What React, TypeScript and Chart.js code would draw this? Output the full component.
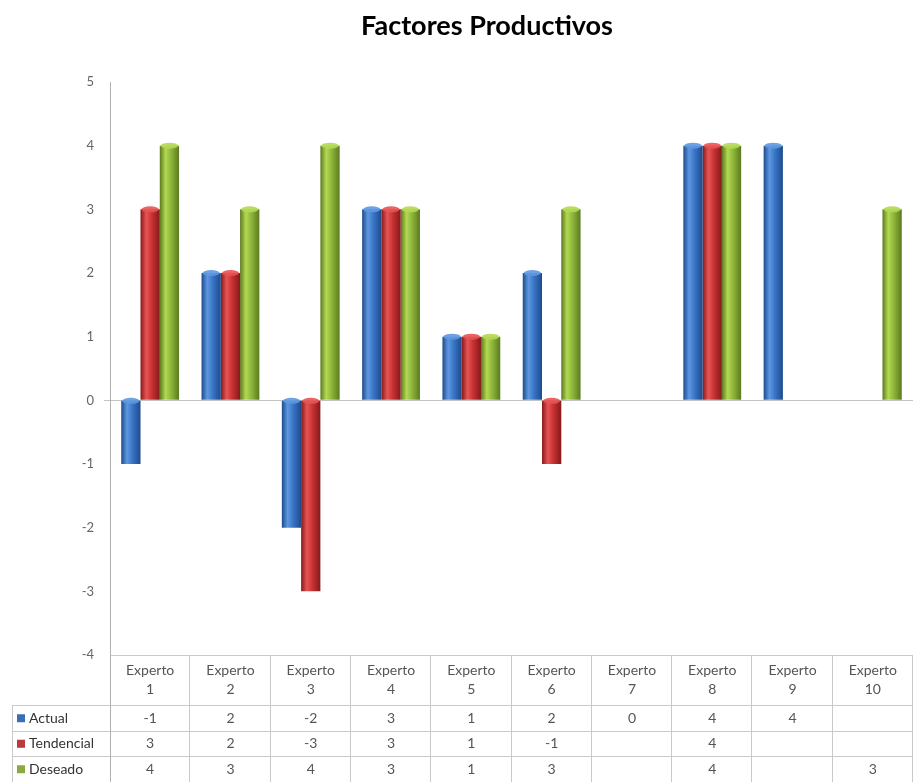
import React, { useEffect, useRef } from "react";
import { Chart, registerables } from "chart.js";

Chart.register(...registerables);

const TITLE = "Factores Productivos";
const categories = ["Experto 1", "Experto 2", "Experto 3", "Experto 4", "Experto 5", "Experto 6", "Experto 7", "Experto 8", "Experto 9", "Experto 10"];
const actual: (number | null)[] = [-1, 2, -2, 3, 1, 2, 0, 4, 4, null];
const tendencial: (number | null)[] = [3, 2, -3, 3, 1, -1, null, 4, null, null];
const deseado: (number | null)[] = [4, 3, 4, 3, 1, 3, null, 4, null, 3];
const seriesNames = ["Actual", "Tendencial", "Deseado"];
const yTicksMin = -4;
const yTicksMax = 5;

const palettes = [
  { dark: "#1d4b8a", light: "#5e98e2", base: "#3873c4", key: "#3a6fb8" },
  { dark: "#85191a", light: "#e85353", base: "#c63131", key: "#b83a3a" },
  { dark: "#5a7a1e", light: "#b4d853", base: "#8cb43a", key: "#8aaa40" },
];

const FONT = "Lato, 'Open Sans', 'Liberation Sans', sans-serif";

const cylinderPlugin = {
  id: "cylinder",
  beforeDatasetsDraw(chart: any) {
    const ctx = chart.ctx;
    chart.data.datasets.forEach((ds: any, di: number) => {
      const meta = chart.getDatasetMeta(di);
      const p = palettes[di];
      meta.data.forEach((el: any) => {
        if (el.width == null || isNaN(el.x)) return;
        const g = ctx.createLinearGradient(el.x - el.width / 2, 0, el.x + el.width / 2, 0);
        g.addColorStop(0, p.dark);
        g.addColorStop(0.3, p.light);
        g.addColorStop(0.6, p.base);
        g.addColorStop(1, p.dark);
        el.options = Object.assign({}, el.options, { backgroundColor: g });
      });
    });
  },
  afterDatasetsDraw(chart: any) {
    const ctx = chart.ctx;
    chart.data.datasets.forEach((ds: any, di: number) => {
      const meta = chart.getDatasetMeta(di);
      const p = palettes[di];
      meta.data.forEach((el: any, i: number) => {
        const v = ds.data[i];
        if (v == null || v === 0) return;
        const top = Math.min(el.y, el.base);
        ctx.save();
        ctx.beginPath();
        ctx.ellipse(el.x, top, el.width / 2 - 1, 3, 0, 0, Math.PI * 2);
        ctx.fillStyle = p.light;
        ctx.globalAlpha = 0.9;
        ctx.fill();
        ctx.restore();
      });
    });
  },
};

const tablePlugin = {
  id: "dataTable",
  afterDraw(chart: any) {
    const ctx = chart.ctx;
    const area = chart.chartArea;
    const xs = chart.scales.x;
    const n = categories.length;
    const colW = (area.right - area.left) / n;
    const top = area.bottom;
    const headerBottom = top + 50;
    const rowH = 25.5;
    const bottom = chart.height;
    const labelLeft = 12;
    const series = [actual, tendencial, deseado];

    ctx.save();
    // title
    ctx.fillStyle = "#000";
    ctx.font = `bold 27px ${FONT}`;
    ctx.textAlign = "center";
    ctx.textBaseline = "middle";
    ctx.fillText(TITLE, 487, 26);

    ctx.strokeStyle = "#c9c9c9";
    ctx.lineWidth = 1;
    ctx.beginPath();
    ctx.moveTo(area.left, top + 0.5);
    ctx.lineTo(area.right, top + 0.5);
    for (let r = 0; r < 3; r++) {
      const y = Math.round(headerBottom + r * rowH) + 0.5;
      ctx.moveTo(labelLeft, y);
      ctx.lineTo(area.right, y);
    }
    for (let c = 1; c <= n; c++) {
      const x = Math.round(area.left + c * colW) - 0.5;
      ctx.moveTo(x, top);
      ctx.lineTo(x, bottom);
    }
    ctx.moveTo(labelLeft + 0.5, headerBottom);
    ctx.lineTo(labelLeft + 0.5, bottom);
    ctx.stroke();

    ctx.strokeStyle = "#b0b0b0";
    ctx.beginPath();
    ctx.moveTo(Math.round(area.left) + 0.5, top);
    ctx.lineTo(Math.round(area.left) + 0.5, bottom);
    ctx.stroke();

    ctx.fillStyle = "#555";
    ctx.font = `14px ${FONT}`;
    ctx.textAlign = "center";
    categories.forEach((cat, i) => {
      const cx = xs.getPixelForValue(i);
      const parts = cat.split(" ");
      ctx.fillText(parts[0], cx, top + 15);
      ctx.fillText(parts[1], cx, top + 34);
    });

    series.forEach((vals, r) => {
      const cy = headerBottom + r * rowH + rowH / 2 + 0.5;
      ctx.fillStyle = palettes[r].key;
      ctx.fillRect(labelLeft + 5, cy - 4, 8, 8);
      ctx.fillStyle = "#333";
      ctx.textAlign = "left";
      ctx.font = `14px ${FONT}`;
      ctx.fillText(seriesNames[r], labelLeft + 17, cy);
      ctx.textAlign = "center";
      ctx.font = `14px ${FONT}`;
      ctx.fillStyle = "#555";
      vals.forEach((v, i) => {
        if (v == null) return;
        ctx.fillText(String(v), xs.getPixelForValue(i), cy);
      });
    });
    ctx.restore();
  },
};

export default function App() {
  const ref = useRef<HTMLCanvasElement>(null);
  useEffect(() => {
    document.body.style.margin = "0";
    const chart = new Chart(ref.current!, {
      type: "bar",
      data: {
        labels: categories,
        datasets: [
          { label: seriesNames[0], data: actual, backgroundColor: palettes[0].base },
          { label: seriesNames[1], data: tendencial, backgroundColor: palettes[1].base },
          { label: seriesNames[2], data: deseado, backgroundColor: palettes[2].base },
        ],
      },
      options: {
        animation: false,
        responsive: false,
        maintainAspectRatio: false,
        layout: { padding: { top: 82, bottom: 127, left: 0, right: 0 } },
        plugins: { legend: { display: false }, title: { display: false }, tooltip: { enabled: false } },
        datasets: { bar: { categoryPercentage: 0.72, barPercentage: 1 } },
        scales: {
          x: { display: false },
          y: {
            min: yTicksMin,
            max: yTicksMax,
            afterFit: (s: any) => { s.width = 110; },
            ticks: { stepSize: 1, color: "#666", padding: 10, font: { family: FONT, size: 13 } },
            border: { display: true, color: "#b0b0b0" },
            grid: {
              drawOnChartArea: true,
              tickLength: 6,
              color: (c: any) => (c.tick && c.tick.value === 0 ? "#c4c4c4" : "rgba(0,0,0,0)"),
            },
          },
        },
      },
      plugins: [cylinderPlugin, tablePlugin],
    });
    return () => chart.destroy();
  }, []);
  return <canvas ref={ref} width={913} height={782} style={{ display: "block" }} />;
}
